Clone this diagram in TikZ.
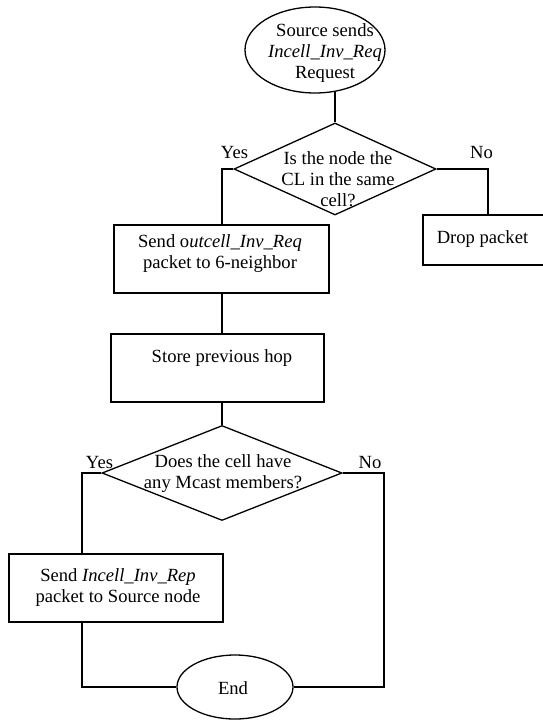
\documentclass[tikz,border=0pt]{standalone}
\usepackage{fontspec}
\setmainfont{Liberation Serif}
\usetikzlibrary{shapes.geometric}
\begin{document}
\begin{tikzpicture}[x=1pt,y=-1pt,
  every node/.style={font=\fontsize{18.6}{21}\selectfont},
  shp/.style={draw,line width=1.3pt,inner sep=0pt},
  boxshape/.style={shp,rectangle,minimum width=#1},
  ellshape/.style={shp,ellipse},
  dshape/.style={shp,diamond},
  txt/.style={align=center,inner sep=0pt},
  conn/.style={line width=1.3pt},
  lbl/.style={inner sep=0pt}]
\clip (0,0) rectangle (543,721);
\fill[white] (0,0) rectangle (543,721);

% shapes
\node[ellshape,minimum width=140,minimum height=86] (start) at (315,50) {};
\node[txt] (tstart) at (325,53) {Source sends\\\textit{Incell\_Inv\_Req}\\Request};

\node[dshape,minimum width=202,minimum height=92] (d1) at (335,169) {};
\node[txt] (td1) at (338,179) {Is the node the\\CL in the same\\cell?};

\node[boxshape=215,minimum height=68] (box1) at (221.5,259) {};
\node[txt] (tbox1) at (220,254) {Send o\textit{utcell\_Inv\_Req}\\packet to 6-neighbor};

\node[boxshape=124,minimum height=50] (drop) at (485,240) {};
\node[txt] (tdrop) at (482.5,239) {Drop packet};

\node[boxshape=213,minimum height=68] (box2) at (217.5,368) {};
\node[txt] (tbox2) at (222,358) {Store previous hop};

\node[dshape,minimum width=240,minimum height=95] (d2) at (222,473) {};
\node[txt] (td2) at (223,474) {Does the cell have\\any Mcast members?};

\node[boxshape=214,minimum height=68] (box3) at (116,588) {};
\node[txt] (tbox3) at (118,588) {Send \textit{Incell\_Inv\_Rep}\\packet to Source node};

\node[ellshape,minimum width=116,minimum height=64] (end) at (235,687) {};
\node[txt] (tend) at (233,688) {End};

% labels
\node[lbl] (y1) at (234.5,152) {Yes};
\node[lbl] (n1) at (481.5,152) {No};
\node[lbl] (y2) at (99.5,462) {Yes};
\node[lbl] (n2) at (370,462) {No};

% coordinates
\coordinate (noturn) at (384,687);

% connectors
\draw[conn] (d1.north) -- (d1.north |- start.-64);
\draw[conn] (d1.west) -| ([xshift=0.5]box1.north);
\draw[conn] (d1.east) -| ([xshift=3]drop.north);
\draw[conn] ([xshift=0.5]box1.south) -- ([xshift=0.5]box1.south |- box2.north);
\draw[conn] (d2.north |- box2.south) -- (d2.north);
\draw[conn] (d2.west) -| ([xshift=-34]box3.north);
\draw[conn] (d2.east) -| (noturn) -- (end.east);
\draw[conn] ([xshift=-34]box3.south) |- (end.west);
\end{tikzpicture}
\end{document}
